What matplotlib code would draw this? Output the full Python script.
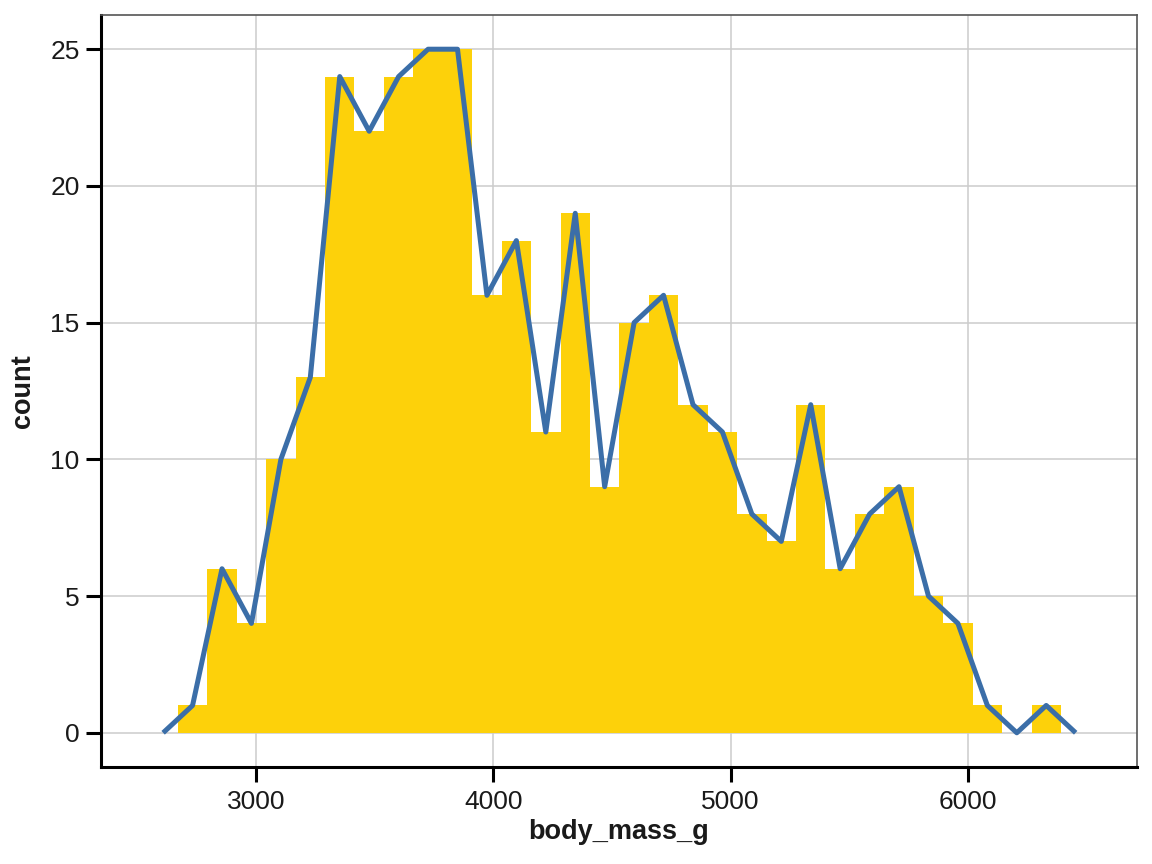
#!/usr/bin/env python3

import numpy as np
import matplotlib
matplotlib.use('Agg')
import matplotlib.pyplot as plt

# histogram of body_mass_g, 30 bins
BIN_START = 2668.97
BIN_WIDTH = 124.14
counts = [1, 6, 4, 10, 13, 24, 22, 24, 25, 25,
          16, 18, 11, 19, 9, 15, 16, 12, 11, 8,
          7, 12, 6, 8, 9, 5, 4, 1, 0, 1]
x_ticks = [3000, 4000, 5000, 6000]
y_ticks = [0, 5, 10, 15, 20, 25]

BAR_COLOR = '#FDD10A'
LINE_COLOR = '#3B6EA8'
TEXT_COLOR = '#1a1a1a'

plt.rcParams['font.family'] = ['Liberation Sans', 'DejaVu Sans']

fig = plt.figure(figsize=(11.52, 8.64), dpi=100)
ax = fig.add_axes([0.0877, 0.1123, 0.987 - 0.0877, 0.9826 - 0.1123])

# bin centres, plus an empty bin on each side for the frequency polygon
centers = BIN_START + BIN_WIDTH * (np.arange(len(counts)) + 0.5)
poly_x = np.concatenate([[centers[0] - BIN_WIDTH], centers, [centers[-1] + BIN_WIDTH]])
poly_y = np.concatenate([[0], counts, [0]])

ax.bar(centers, counts, width=BIN_WIDTH, color=BAR_COLOR, linewidth=0, zorder=2)
ax.plot(poly_x, poly_y, color=LINE_COLOR, linewidth=3.6, solid_joinstyle='round',
        solid_capstyle='butt', zorder=3)

ax.set_xlim(2345, 6714)
ax.set_ylim(-1.25, 26.25)
ax.set_xticks(x_ticks)
ax.set_yticks(y_ticks)
ax.grid(True, color='#cccccc', linewidth=1.1, zorder=0)
ax.set_axisbelow(True)

# frame: heavy left/bottom axis lines, thin border elsewhere
for side in ('left', 'bottom'):
    ax.spines[side].set_linewidth(2.2)
    ax.spines[side].set_color('black')
for side in ('top', 'right'):
    ax.spines[side].set_linewidth(1.2)
    ax.spines[side].set_color('#555555')

ax.tick_params(axis='both', direction='out', length=10.5, width=2.2, color='black',
               labelsize=19, labelcolor=TEXT_COLOR, pad=5)
ax.tick_params(axis='x', pad=6)

ax.set_xlabel('body_mass_g', fontsize=19.5, fontweight='bold', color=TEXT_COLOR, labelpad=4)
ax.set_ylabel('count', fontsize=19.5, fontweight='bold', color=TEXT_COLOR, labelpad=10)

fig.savefig('out.png', dpi=100)
